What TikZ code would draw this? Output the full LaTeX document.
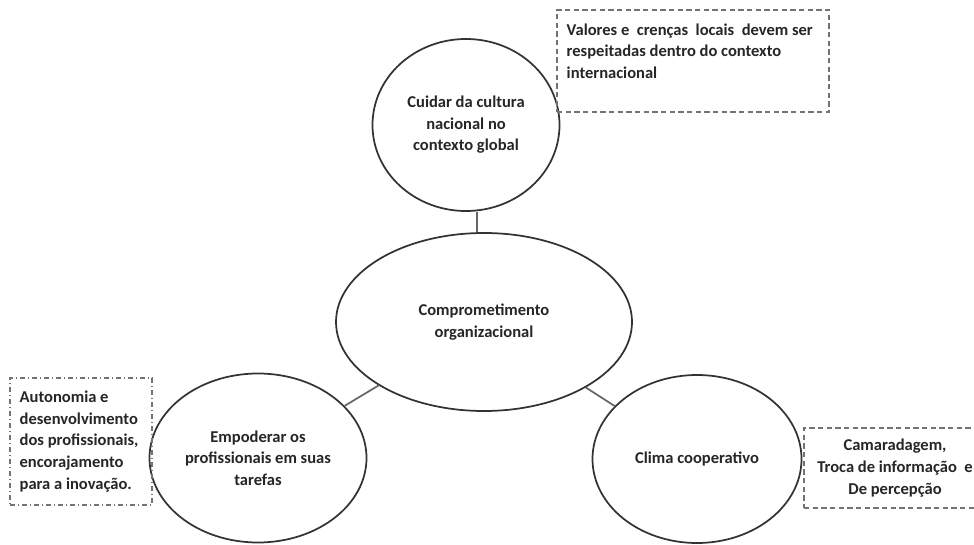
\documentclass[tikz,border=0pt]{standalone}
\usepackage{fontspec}
\setmainfont{Carlito}
\usetikzlibrary{shapes.geometric, calc}

\begin{document}
\begin{tikzpicture}[
        x=0.75pt, y=-0.75pt,
        every node/.style={font=\fontsize{12.4}{16.2}\selectfont\bfseries, text=black!85},
        bubble/.style={
            ellipse,
            draw=black!80,
            line width=1.3pt,
            fill=white,
            align=center,
            inner sep=0pt
        },
        link/.style={
            draw=black!60,
            line width=1.3pt
        },
        notebox/.style={
            rectangle,
            draw=black!55,
            line width=0.8pt,
            inner sep=0pt
        },
        dashednote/.style={notebox, dash pattern=on 4pt off 2.5pt},
        dashdotnote/.style={notebox, dash pattern=on 4pt off 2pt on 1pt off 2pt}
    ]

    \clip (0,0) rectangle (974,545);
    \fill[white] (0,0) rectangle (974,545);

    % ellipses
    \node (centre) [bubble, minimum width=222pt, minimum height=133.5pt] at (484,322) {Comprometimento\\organizacional};

    \node (cultura) [bubble, minimum width=140.25pt, minimum height=129pt] at (466,125) {Cuidar da cultura\\nacional no\\contexto global};

    \node (empoderar) [bubble, minimum width=162.75pt, minimum height=126.75pt] at (258,458) {Empoderar os\\profissionais em suas\\tarefas};

    \node (clima) [bubble, minimum width=156.75pt, minimum height=126pt] at (697,459) {Clima cooperativo};

    % notes
    \node (valoresbox) [dashednote, minimum width=204pt, minimum height=76.5pt] at (693,61) {};
    \node (valores) [anchor=north west, align=left, inner sep=0pt] at ($(valoresbox.north west)+(10,14)$)
        {Valores e\ \ crenças\ \ locais\ \ devem ser\\respeitadas dentro do contexto\\internacional};

    \node (autonomia) [dashdotnote, minimum width=106.5pt, minimum height=95.25pt, text width=92pt, align=flush left] at (81,441.5)
        {Autonomia e\\desenvolvimento\\dos profissionais,\\encorajamento\\para a inovação.};

    \node (camaradagem) [dashednote, minimum width=136.5pt, minimum height=60pt, align=center] at (895,468)
        {Camaradagem,\\Troca de informação\ \ e\\De percepção};

    % connectors
    \coordinate (tc) at (477,0);
    \draw [link] (cultura.south -| tc) -- (centre.north -| tc);
    \draw [link] (centre) -- (empoderar);
    \draw [link] (centre) -- (clima);

\end{tikzpicture}
\end{document}
